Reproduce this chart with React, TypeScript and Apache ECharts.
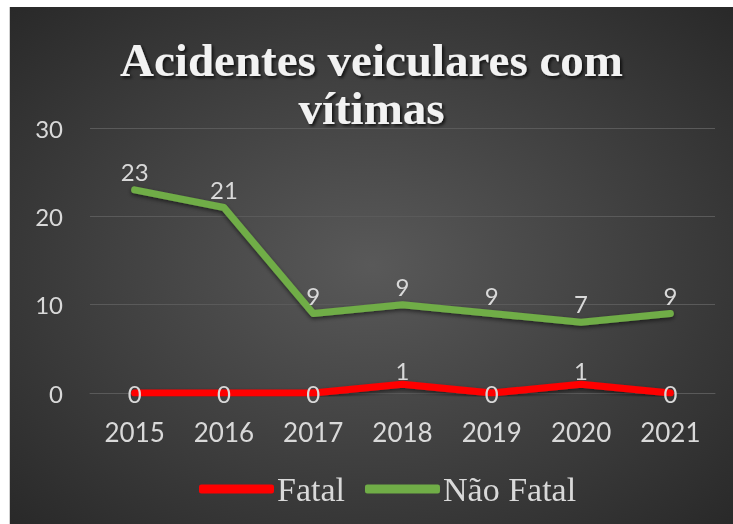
import React, { useEffect, useRef } from "react";
import * as echarts from "echarts";

const years = ["2015", "2016", "2017", "2018", "2019", "2020", "2021"];
const fatalValues = [0, 0, 0, 1, 0, 1, 0];
const fatalLabels = ["0", "0", "0", "1", "0", "1", "0"];
const naoFatalValues = [23, 21, 9, 10, 9, 8, 9];
const naoFatalLabels = ["23", "21", "9", "9", "9", "7", "9"];
const yTicks = { min: 0, max: 30, interval: 10 };
const titleText = "Acidentes veiculares com\nvítimas";

export default function App() {
  const ref = useRef<HTMLDivElement>(null);
  useEffect(() => {
    if (!ref.current) return;
    const chart = echarts.init(ref.current, null, { renderer: "svg" });
    const labelColor = "#d9d9d9";
    const lineShadow = {
      shadowColor: "rgba(0,0,0,0.55)",
      shadowBlur: 4,
      shadowOffsetY: 2,
    };
    chart.setOption({
      animation: false,
      backgroundColor: {
        type: "radial",
        x: 0.5,
        y: 0.5,
        r: 0.75,
        colorStops: [
          { offset: 0, color: "#595959" },
          { offset: 1, color: "#262626" },
        ],
      },
      title: {
        text: titleText,
        left: "center",
        top: 24,
        textStyle: {
          fontFamily: "Liberation Serif",
          fontWeight: "bold",
          fontSize: 47,
          lineHeight: 48,
          color: "#f2f2f2",
          textShadowColor: "rgba(0,0,0,0.7)",
          textShadowBlur: 3,
          textShadowOffsetX: 2,
          textShadowOffsetY: 2,
        },
      },
      legend: {
        left: 184,
        top: 460,
        itemWidth: 75,
        itemHeight: 9,
        itemGap: 20,
        icon: "roundRect",
        textStyle: {
          fontFamily: "Liberation Serif",
          fontSize: 34,
          color: labelColor,
          padding: [0, 0, 0, -2],
        },
        data: ["Fatal", "Não Fatal"],
      },
      grid: { left: 80, right: 18, top: 121, bottom: 131 },
      xAxis: {
        type: "category",
        data: years,
        boundaryGap: true,
        axisLine: { show: true, lineStyle: { color: "#5a5a5a", width: 1 } },
        axisTick: { show: false },
        axisLabel: {
          color: labelColor,
          fontFamily: "Lato",
          fontSize: 26,
          margin: 26,
        },
      },
      yAxis: {
        type: "value",
        min: yTicks.min,
        max: yTicks.max,
        interval: yTicks.interval,
        axisLine: { show: false },
        axisTick: { show: false },
        splitLine: { lineStyle: { color: "#5a5a5a", width: 1 } },
        axisLabel: {
          color: labelColor,
          fontFamily: "Lato",
          fontSize: 24,
          margin: 27,
        },
      },
      series: [
        {
          name: "Fatal",
          type: "line",
          symbol: "circle",
          symbolSize: 1,
          color: "#ff0000",
          lineStyle: { width: 7, cap: "round", join: "round", ...lineShadow },
          data: fatalValues.map((v, i) => ({
            value: v,
            label: {
              show: true,
              formatter: fatalLabels[i],
              position: v === 0 ? "inside" : "top",
              distance: 1,
              color: labelColor,
              fontFamily: "Lato",
              fontSize: 24,
            },
          })),
          z: 3,
        },
        {
          name: "Não Fatal",
          type: "line",
          symbol: "circle",
          symbolSize: 1,
          color: "#70ad47",
          lineStyle: { width: 7, cap: "round", join: "round", ...lineShadow },
          data: naoFatalValues.map((v, i) => ({
            value: v,
            label: {
              show: true,
              formatter: naoFatalLabels[i],
              position: "top",
              distance: 6,
              color: labelColor,
              fontFamily: "Lato",
              fontSize: 24,
            },
          })),
          z: 2,
        },
      ],
    });
    return () => chart.dispose();
  }, []);
  return (
    <div
      ref={ref}
      style={{
        position: "fixed",
        left: 9,
        top: 7,
        width: 724,
        height: 517,
        borderLeft: "1px solid #cfcfcf",
        boxSizing: "border-box",
      }}
    />
  );
}
